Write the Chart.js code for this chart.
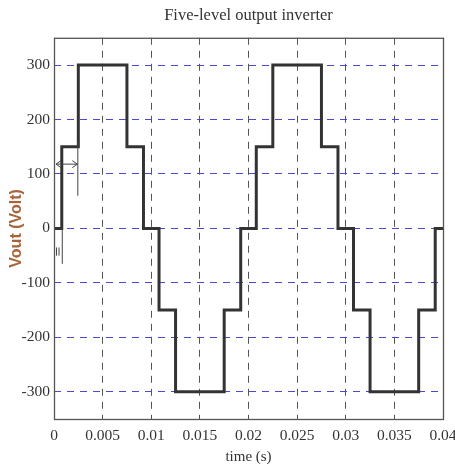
<!DOCTYPE html>
<html>
<head>
<meta charset="utf-8">
<script src="https://cdn.jsdelivr.net/npm/chart.js@4/dist/chart.umd.min.js"></script>
<style>
  html, body { margin: 0; padding: 0; background: #fff; }
  #wrap { width: 455px; height: 466px; }
</style>
</head>
<body>
<div id="wrap"><canvas id="c" width="455" height="466"></canvas></div>
<script>
// Five-level staircase output: switching instants (s) and the level held after each
const switchTimes = [0, 0.0008, 0.0025, 0.0075, 0.0092, 0.0108, 0.0125, 0.0175, 0.0192,
                     0.0208, 0.0225, 0.0275, 0.0292, 0.0308, 0.0325, 0.0375, 0.0392, 0.04];
const voltLevels  = [0, 150, 300, 150, 0, -150, -300, -150, 0,
                     150, 300, 150, 0, -150, -300, -150, 0, 0];

const xTicks = [0, 0.005, 0.01, 0.015, 0.02, 0.025, 0.03, 0.035, 0.04];
const xTickLabels = ['0', '0.005', '0.01', '0.015', '0.02', '0.025', '0.03', '0.035', '0.04'];
const yTicks = [-300, -200, -100, 0, 100, 200, 300];

// Width marker drawn around the first step
const markerStart = 0, markerEnd = 0.0025, markerLevel = 118;
const markerTop = 160, markerBottom = 60;
const edgeTime = 0.0008, edgeLow = -65;

const points = switchTimes.map((t, i) => ({ x: t, y: voltLevels[i] }));

const frame = {
  id: 'frame',
  afterDraw(chart) {
    const { ctx, chartArea: a, scales: { x, y } } = chart;
    ctx.save();
    ctx.strokeStyle = '#555';
    ctx.lineWidth = 1.3;
    ctx.strokeRect(a.left + 0.5, a.top + 0.5, a.right - a.left, a.bottom - a.top);

    // width marker
    ctx.strokeStyle = '#444';
    ctx.lineWidth = 1;
    const x0 = x.getPixelForValue(markerStart) + 2;
    const x1 = x.getPixelForValue(markerEnd) - 1;
    const ym = y.getPixelForValue(markerLevel);
    ctx.beginPath();
    ctx.moveTo(x0, ym); ctx.lineTo(x1, ym);
    ctx.moveTo(x0 + 5, ym - 3.5); ctx.lineTo(x0, ym); ctx.lineTo(x0 + 5, ym + 3.5);
    ctx.moveTo(x1 - 5, ym - 3.5); ctx.lineTo(x1, ym); ctx.lineTo(x1 - 5, ym + 3.5);
    ctx.stroke();
    ctx.beginPath();
    ctx.moveTo(x1 + 0.5, y.getPixelForValue(markerTop));
    ctx.lineTo(x1 + 0.5, y.getPixelForValue(markerBottom));
    const xe = x.getPixelForValue(edgeTime) + 0.5;
    ctx.moveTo(xe, y.getPixelForValue(0));
    ctx.lineTo(xe, y.getPixelForValue(edgeLow));
    const xs = x.getPixelForValue(markerStart);
    ctx.moveTo(xs + 2.5, y.getPixelForValue(-35)); ctx.lineTo(xs + 2.5, y.getPixelForValue(-50));
    ctx.moveTo(xs + 5, y.getPixelForValue(-35)); ctx.lineTo(xs + 5, y.getPixelForValue(-50));
    ctx.stroke();
    ctx.restore();
  }
};

new Chart(document.getElementById('c'), {
  type: 'line',
  data: {
    datasets: [{
      data: points,
      stepped: true,
      borderColor: '#333',
      borderWidth: 3,
      pointRadius: 0,
      fill: false
    }]
  },
  options: {
    responsive: false,
    animation: false,
    layout: { padding: 0 },
    plugins: {
      legend: { display: false },
      tooltip: { enabled: false },
      title: {
        display: true,
        fullSize: false,
        text: 'Five-level output inverter',
        color: '#333',
        font: { family: 'Liberation Serif', size: 16.5, weight: 'normal' },
        padding: { top: 6, bottom: 12 }
      }
    },
    scales: {
      x: {
        type: 'linear',
        min: 0, max: 0.04,
        afterBuildTicks: s => { s.ticks = xTicks.map(v => ({ value: v })); },
        afterFit: s => { s.height = 47; s.paddingLeft = 0; s.paddingRight = 12; },
        ticks: {
          autoSkip: false,
          maxRotation: 0,
          padding: 8,
          color: '#333',
          font: { family: 'Liberation Serif', size: 15.5 },
          callback: (v, i) => xTickLabels[i]
        },
        grid: { color: '#555', lineWidth: 1, drawTicks: false },
        border: { display: false, dash: [7, 6] },
        title: {
          display: true,
          text: 'time (s)',
          color: '#333',
          font: { family: 'Liberation Serif', size: 15 },
          padding: { top: 0, bottom: 0 }
        }
      },
      y: {
        min: -350, max: 350,
        afterBuildTicks: s => { s.ticks = yTicks.map(v => ({ value: v })); },
        afterFit: s => { s.width = 54; s.paddingTop = 0; s.paddingBottom = 0; },
        ticks: {
          padding: 4,
          color: '#333',
          font: { family: 'Liberation Serif', size: 15.5 }
        },
        grid: { color: '#4a48d0', lineWidth: 1, drawTicks: false },
        border: { display: false, dash: [7, 6] },
        title: {
          display: true,
          text: 'Vout (Volt)',
          color: '#a8653c',
          font: { family: 'Liberation Sans', size: 16, weight: 'bold' },
          padding: { top: 7, bottom: 2 }
        }
      }
    }
  },
  plugins: [frame]
});
</script>
</body>
</html>
